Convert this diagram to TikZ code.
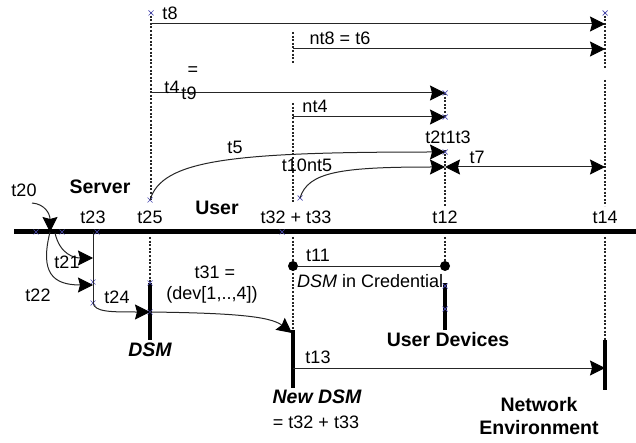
\documentclass[tikz,border=0pt]{standalone}
\usepackage{fontspec}
\setmainfont{Liberation Sans}
\usetikzlibrary{arrows.meta,positioning}

\tikzset{
  lbl/.style={font=\fontsize{18}{20}\selectfont, inner sep=0pt},
  blbl/.style={font=\fontsize{19.5}{22}\selectfont\bfseries, inner sep=0pt},
  conn/.style={draw=black!85, line width=1pt},
  hd/.tip={Stealth[length=15pt,width=15pt,inset=2pt,black]},
  arr/.style={conn, -hd},
  tline/.style={black!85, line width=1.3pt, dash pattern=on 2pt off 1.6pt},
  thickbar/.style={line width=4.5pt},
  dot/.style={circle, fill, inner sep=0pt, minimum size=10pt},
  cross/.style={draw=blue!40!gray, line width=0.7pt},
}

\begin{document}
\begin{tikzpicture}[x=1pt,y=-1pt]
\useasboundingbox (0,0) rectangle (636,443);
% time line
\coordinate (m0) at (14,232);
\coordinate (m1) at (636,232);
\draw[line width=5pt] (m0) -- (m1);

% dotted time lines
\draw[tline] (151,12) -- (151,200);
\draw[tline] (293,32) -- (293,63);
\draw[tline] (293,103) -- (293,203);
\draw[tline] (445,93) -- (445,117);
\draw[tline] (445,150) -- (445,206);
\draw[tline] (605,12) -- (605,68);
\draw[tline] (605,80) -- (605,206);
\draw[tline] (150,237) -- (150,283);
\draw[tline] (293,237) -- (293,330);
\draw[tline] (445,237) -- (445,266);
\draw[tline] (605,237) -- (605,340);

% bars
\coordinate (dsm0) at (150,283);  \coordinate (dsm1) at (150,340);
\coordinate (ndsm0) at (293,330); \coordinate (ndsm1) at (293,388);
\coordinate (ud0) at (445,283);   \coordinate (ud1) at (445,330);
\coordinate (ne0) at (605,340);   \coordinate (ne1) at (605,390);
\draw[thickbar] (dsm0) -- (dsm1);
\draw[thickbar] (ndsm0) -- (ndsm1);
\draw[thickbar] (ud0) -- (ud1);
\draw[thickbar] (ne0) -- (ne1);

% points
\coordinate (p8a) at (151,24);   \coordinate (p8b) at (605,24);
\coordinate (p6a) at (293,49);   \coordinate (p6b) at (605,49);
\coordinate (p4a) at (151,93);   \coordinate (p4b) at (445,93);
\coordinate (pn4a) at (293,117); \coordinate (pn4b) at (445,117);
\coordinate (p5a) at (150,200);  \coordinate (p5b) at (445,152);
\coordinate (p10a) at (300,198); \coordinate (p10b) at (445,167);
\coordinate (p7b) at (605,167);
\coordinate (p20a) at (32,203);  \coordinate (p20b) at (50,232);
\coordinate (p21a) at (55,233);  \coordinate (p21b) at (93,258);
\coordinate (p22b) at (93,285);
\coordinate (p23a) at (93,232);  \coordinate (p23b) at (93,303);
\coordinate (p24b) at (150,312);
\coordinate (p31b) at (292,333);
\coordinate (p13a) at (293,368); \coordinate (p13b) at (605,368);

% connection marks
\foreach \cx/\cy in {36/232,62/232,97/232,282/232,151/13,605/13,150/200,300/198,
  445/93,445/117,445/152,150/283,150/312,93/282,93/303,445/286,445/309}
  \draw[cross] (\cx-2.5,\cy-2.5) -- (\cx+2.5,\cy+2.5) (\cx-2.5,\cy+2.5) -- (\cx+2.5,\cy-2.5);

% arrows
\draw[arr] (p8a) -- (p8b);
\draw[arr] (p6a) -- (p6b);
\draw[arr] (p4a) -- (p4b);
\draw[arr] (pn4a) -- (pn4b);
\draw[arr] (p5a) .. controls (162,160) and (230,152) .. (p5b);
\draw[arr] (p10a) .. controls (308,172) and (340,167) .. (p10b);
\draw[conn, hd-hd] (p10b) -- (p7b);
\draw[arr] (p20a) .. controls (45,204) and (50,214) .. (p20b);
\draw[arr] (p21a) .. controls (60,255) and (75,258) .. (p21b);
\draw[arr] (p20b) .. controls (40,272) and (52,285) .. (p22b);
\draw[conn] (p23a) -- (p23b);
\draw[arr] (p23b) .. controls (95,312) and (110,312) .. (p24b);
\draw[arr] (p24b) .. controls (230,313) and (270,316) .. (p31b);
\draw[arr] (p13a) -- (p13b);

% credential
\node[dot] (c1) at (293,266) {};
\node[dot] (c2) at (445,266) {};
\draw[conn] (c1) -- (c2);

% labels
\node[lbl] (l8) at (170,13) {t8};
\node[lbl] (l6) at (340,38) {nt8 = t6};
\node[lbl] (l4) at (172,87) {t4};
\node[lbl] (leq) at (193,71) {=};
\node[lbl] (l9) at (189,93) {t9};
\node[lbl] (ln4) at (315,106) {nt4};
\node[lbl] (l5) at (235,147) {t5};
\node[lbl] (l10) at (307,165) {t10nt5};
\node[lbl] (l213) at (448,137) {t2t1t3};
\node[lbl] (l7) at (477,157) {t7};
\node[lbl] (l20) at (24,190) {t20};
\node[blbl] (srv) at (100,187) {Server};
\node[blbl] (usr) at (217,208) {User};
\node[lbl] (l23) at (93,217) {t23};
\node[lbl] (l25) at (150,217) {t25};
\node[lbl] (l32) at (296,217) {t32 + t33};
\node[lbl] (l12) at (445,217) {t12};
\node[lbl] (l14) at (605,217) {t14};
\node[lbl] (l21) at (67,262) {t21};
\node[lbl] (l22) at (38,295) {t22};
\node[lbl] (l24) at (117,297) {t24};
\node[lbl] (l31) at (215,272) {t31 =};
\node[lbl] (ldev) at (212,295) {(dev[1,..,4])};
\node[blbl] (ldsm) at (150,350) {\itshape DSM};
\node[lbl] (l11) at (318,255) {t11};
\node[lbl, anchor=west] (lcred) at (297,281) {\textit{DSM} in Credential};
\node[blbl] (lud) at (448,340) {User Devices};
\node[lbl] (l13) at (318,357) {t13};
\node[blbl] (lnd) at (317,397) {\itshape New DSM};
\node[lbl] (lnd2) at (316,422) {= t32 + t33};
\node[blbl] (lnet) at (539,405) {Network};
\node[blbl] (lenv) at (539,428) {Environment};
\end{tikzpicture}
\end{document}
